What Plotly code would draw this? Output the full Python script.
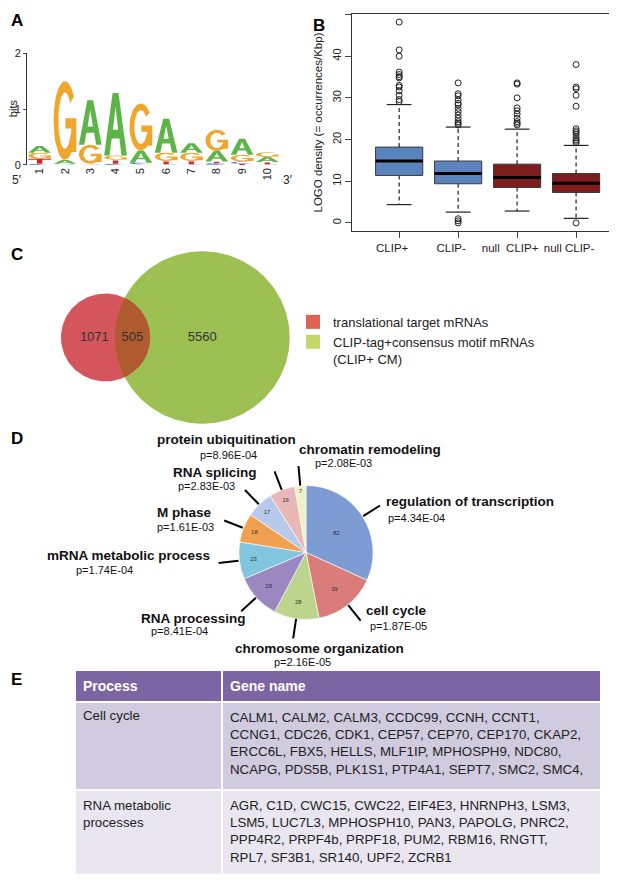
import numpy as np
import plotly.graph_objects as go

# The page body has an 8px margin; the figure is sized so that it fills the rest of the window.
PAGE_W, PAGE_H, BODY = 617, 880, 8
W, H = PAGE_W - BODY, PAGE_H - BODY
FONT = "Liberation Sans, Arial, sans-serif"

# ---------------- Panel A : sequence logo (bits) ----------------
logo_positions = [1, 2, 3, 4, 5, 6, 7, 8, 9, 10]
logo_A = [0.12, 0.07, 0.80, 1.12, 0.22, 0.61, 0.17, 0.19, 0.29, 0.09]
logo_C = [0.02, 0.01, 0.01, 0.02, 0.03, 0.01, 0.01, 0.03, 0.04, 0.01]
logo_G = [0.11, 1.41, 0.34, 0.08, 0.84, 0.15, 0.15, 0.38, 0.12, 0.09]
logo_T = [0.09, 0.01, 0.01, 0.07, 0.01, 0.06, 0.06, 0.03, 0.02, 0.04]
logo_colors = {"A": "#5db548", "C": "#3f63c8", "G": "#f0a52c", "T": "#cc2b2b"}

# ---------------- Panel B : box plot summary ----------------
box_groups = ["CLIP+", "CLIP-", "null  CLIP+", "null CLIP-"]
box_lowfence = [4.4, 2.6, 2.85, 1.1]
box_q1 = [11.4, 9.4, 8.5, 7.3]
box_median = [14.85, 11.85, 10.9, 9.5]
box_q3 = [18.2, 14.85, 14.1, 11.85]
box_upfence = [28.4, 23.0, 22.5, 18.6]
box_outliers = [
    [29.1, 29.6, 30.6, 31.7, 32.6, 33.0, 34.8, 35.1, 35.6, 36.2, 40.0, 41.5, 48.2],
    [0.0, 0.5, 1.0, 23.5, 23.9, 24.3, 25.1, 25.9, 26.7, 27.5, 28.3, 28.7, 29.5, 30.5, 31.0, 33.6],
    [23.5, 23.9, 24.3, 25.1, 26.1, 26.9, 27.6, 30.0, 33.3, 33.6],
    [0.0, 19.2, 19.6, 20.0, 20.5, 21.2, 21.7, 22.1, 22.6, 28.0, 30.6, 32.2, 32.6, 38.0],
]
box_fill = ["#5b84bf", "#5b84bf", "#7d1d1d", "#7d1d1d"]

# ---------------- Panel C : Venn ----------------
venn_only_translational = 1071
venn_both = 505
venn_only_clip = 5560
venn_names = ["translational target mRNAs", "CLIP-tag+consensus motif mRNAs<br>(CLIP+ CM)"]
venn_circle_colors = ["#d4555b", "#9cc152"]
venn_overlap_color = "#b05a2f"
venn_legend_colors = ["#de6352", "#c3d76c"]

# ---------------- Panel D : GO pie ----------------
go_terms = ["regulation of transcription", "cell cycle", "chromosome organization",
            "RNA processing", "mRNA metabolic process", "M phase", "RNA splicing",
            "protein ubiquitination", "chromatin remodeling"]
go_counts = [82, 39, 28, 28, 23, 18, 17, 16, 7]
go_pvals = ["p=4.34E-04", "p=1.87E-05", "p=2.16E-05", "p=8.41E-04", "p=1.74E-04",
            "p=1.61E-03", "p=2.83E-03", "p=8.96E-04", "p=2.08E-03"]
go_colors = ["#7d9cd3", "#da7d7a", "#bcd48b", "#9b88c1", "#82c5de",
             "#f1a04f", "#b9c9ea", "#e9b7b6", "#eef0c6"]

# ---------------- Panel E : table ----------------
table_process = ["Cell cycle", "RNA metabolic<br>processes"]
genes_cell_cycle = ["CALM1", "CALM2", "CALM3", "CCDC99", "CCNH", "CCNT1", "CCNG1", "CDC26",
                    "CDK1", "CEP57", "CEP70", "CEP170", "CKAP2", "ERCC6L", "FBX5", "HELLS",
                    "MLF1IP", "MPHOSPH9", "NDC80", "NCAPG", "PDS5B", "PLK1S1", "PTP4A1",
                    "SEPT7", "SMC2", "SMC4"]
genes_rna_metabolic = ["AGR", "C1D", "CWC15", "CWC22", "EIF4E3", "HNRNPH3", "LSM3", "LSM5",
                       "LUC7L3", "MPHOSPH10", "PAN3", "PAPOLG", "PNRC2", "PPP4R2", "PRPF4b",
                       "PRPF18", "PUM2", "RBM16", "RNGTT", "RPL7", "SF3B1", "SR140", "UPF2",
                       "ZCRB1"]
genes_per_line = [[6, 7, 6, 7], [7, 6, 6, 5]]


def px_x(p):
    """reference page pixel -> paper x"""
    return min(1.0, max(0.0, (p - BODY) / W))


def px_y(p):
    """reference page pixel -> paper y"""
    return min(1.0, max(0.0, 1 - (p - BODY) / H))


fig = go.Figure()

# ====== Panel A drawing ======
def glyph(letter):
    polys, holes = [], []
    if letter == "A":
        polys.append([(0, 0), (0.37, 1), (0.63, 1), (1, 0), (0.76, 0), (0.67, 0.27),
                      (0.33, 0.27), (0.24, 0), (0, 0)])
        holes.append([(0.385, 0.41), (0.5, 0.78), (0.615, 0.41), (0.385, 0.41)])
    elif letter in ("C", "G"):
        end = 322 if letter == "C" else 335
        t = np.radians(np.linspace(38, end, 40))
        ox, oy = 0.5 + 0.5 * np.cos(t), 0.5 + 0.5 * np.sin(t)
        ix, iy = 0.5 + 0.29 * np.cos(t[::-1]), 0.5 + 0.36 * np.sin(t[::-1])
        polys.append(list(zip(np.r_[ox, ix, ox[:1]], np.r_[oy, iy, oy[:1]])))
        if letter == "G":
            polys.append([(0.78, 0.1), (1.0, 0.1), (1.0, 0.53), (0.78, 0.53), (0.78, 0.1)])
            polys.append([(0.52, 0.40), (1.0, 0.40), (1.0, 0.53), (0.52, 0.53), (0.52, 0.40)])
    elif letter == "T":
        polys.append([(0, 0.82), (1, 0.82), (1, 1), (0, 1), (0, 0.82)])
        polys.append([(0.38, 0), (0.62, 0), (0.62, 0.82), (0.38, 0.82), (0.38, 0)])
    return polys, holes


letter_xy = {k: ([], []) for k in "ACGT"}
hole_xy = ([], [])
for i, pos in enumerate(logo_positions):
    stack = sorted([("A", logo_A[i]), ("C", logo_C[i]), ("G", logo_G[i]), ("T", logo_T[i])],
                   key=lambda s: s[1])
    y0 = 0.0
    for letter, h in stack:
        polys, holes = glyph(letter)
        for poly in polys:
            for u, v in poly:
                letter_xy[letter][0].append(pos - 0.45 + 0.9 * u)
                letter_xy[letter][1].append(y0 + h * v)
            letter_xy[letter][0].append(None)
            letter_xy[letter][1].append(None)
        for poly in holes:
            for u, v in poly:
                hole_xy[0].append(pos - 0.45 + 0.9 * u)
                hole_xy[1].append(y0 + h * v)
            hole_xy[0].append(None)
            hole_xy[1].append(None)
        y0 += h

for letter in "ACGT":
    fig.add_trace(go.Scatter(x=letter_xy[letter][0], y=letter_xy[letter][1], mode="lines",
                             fill="toself", fillcolor=logo_colors[letter],
                             line=dict(width=0, color=logo_colors[letter]),
                             hoverinfo="skip", showlegend=False, xaxis="x", yaxis="y"))
fig.add_trace(go.Scatter(x=hole_xy[0], y=hole_xy[1], mode="lines", fill="toself",
                         fillcolor="white", line=dict(width=0, color="white"),
                         hoverinfo="skip", showlegend=False, xaxis="x", yaxis="y"))

# ====== Panel B drawing ======
bx = [i + 1 for i in range(len(box_groups))]
for color in dict.fromkeys(box_fill):
    xs, ys = [], []
    for i, x in enumerate(bx):
        if box_fill[i] != color:
            continue
        xs += [x - 0.4, x + 0.4, x + 0.4, x - 0.4, x - 0.4, None]
        ys += [box_q1[i], box_q1[i], box_q3[i], box_q3[i], box_q1[i], None]
    fig.add_trace(go.Scatter(x=xs, y=ys, mode="lines", fill="toself", fillcolor=color,
                             line=dict(color="#3a3a3a", width=1), hoverinfo="skip",
                             showlegend=False, xaxis="x2", yaxis="y2"))
wx, wy, cx_, cy_, mx, my = [], [], [], [], [], []
for i, x in enumerate(bx):
    wx += [x, x, None, x, x, None]
    wy += [box_q3[i], box_upfence[i], None, box_q1[i], box_lowfence[i], None]
    cx_ += [x - 0.21, x + 0.21, None, x - 0.21, x + 0.21, None]
    cy_ += [box_upfence[i], box_upfence[i], None, box_lowfence[i], box_lowfence[i], None]
    mx += [x - 0.4, x + 0.4, None]
    my += [box_median[i], box_median[i], None]
fig.add_trace(go.Scatter(x=wx, y=wy, mode="lines", line=dict(color="#222", width=1.2, dash="4px,3px"),
                         hoverinfo="skip", showlegend=False, xaxis="x2", yaxis="y2"))
fig.add_trace(go.Scatter(x=cx_, y=cy_, mode="lines", line=dict(color="#222", width=1.2),
                         hoverinfo="skip", showlegend=False, xaxis="x2", yaxis="y2"))
fig.add_trace(go.Scatter(x=mx, y=my, mode="lines", line=dict(color="black", width=3),
                         hoverinfo="skip", showlegend=False, xaxis="x2", yaxis="y2"))
ox, oy = [], []
for i, x in enumerate(bx):
    ox += [x] * len(box_outliers[i])
    oy += box_outliers[i]
fig.add_trace(go.Scatter(x=ox, y=oy, mode="markers",
                         marker=dict(symbol="circle-open", size=6, color="#222", line=dict(width=1)),
                         hoverinfo="skip", showlegend=False, xaxis="x2", yaxis="y2"))

# ====== Panel C drawing (area-proportional Venn) ======
set_a = venn_only_translational + venn_both
set_b = venn_only_clip + venn_both
r1 = np.sqrt(set_a / np.pi)
r2 = np.sqrt(set_b / np.pi)


def lens_area(d):
    a1 = np.arccos(np.clip((d * d + r1 * r1 - r2 * r2) / (2 * d * r1), -1, 1))
    a2 = np.arccos(np.clip((d * d + r2 * r2 - r1 * r1) / (2 * d * r2), -1, 1))
    k = max((-d + r1 + r2) * (d + r1 - r2) * (d - r1 + r2) * (d + r1 + r2), 0)
    return r1 * r1 * a1 + r2 * r2 * a2 - 0.5 * np.sqrt(k)


lo, hi = abs(r2 - r1) + 1e-6, r1 + r2
for _ in range(80):
    mid = (lo + hi) / 2
    if lens_area(mid) > venn_both:
        lo = mid
    else:
        hi = mid
dist = (lo + hi) / 2

tt = np.linspace(0, 2 * np.pi, 200)
for (cxv, rr, col) in [(dist, r2, venn_circle_colors[1]), (0.0, r1, venn_circle_colors[0])]:
    fig.add_trace(go.Scatter(x=cxv + rr * np.cos(tt), y=rr * np.sin(tt), mode="lines",
                             fill="toself", fillcolor=col, line=dict(width=0, color=col),
                             hoverinfo="skip", showlegend=False, xaxis="x3", yaxis="y3"))
xi = (dist * dist + r1 * r1 - r2 * r2) / (2 * dist)
yi = np.sqrt(r1 * r1 - xi * xi)
ta = np.arctan2(yi, xi)
tb = np.arctan2(yi, xi - dist)
t1 = np.linspace(-ta, ta, 60)
t2 = np.linspace(tb, 2 * np.pi - tb, 60)
lx = np.r_[r1 * np.cos(t1), dist + r2 * np.cos(t2)]
ly = np.r_[r1 * np.sin(t1), r2 * np.sin(t2)]
fig.add_trace(go.Scatter(x=lx, y=ly, mode="lines", fill="toself", fillcolor=venn_overlap_color,
                         line=dict(width=0, color=venn_overlap_color), hoverinfo="skip",
                         showlegend=False, xaxis="x3", yaxis="y3"))
fig.add_trace(go.Scatter(
    x=[-0.25 * r1, (dist - r2 + r1) / 2, dist], y=[0, 0, 0], mode="text",
    text=[str(venn_only_translational), str(venn_both), str(venn_only_clip)],
    textfont=dict(size=13, color="#333", family=FONT), hoverinfo="skip",
    showlegend=False, xaxis="x3", yaxis="y3"))
for name, col in zip(venn_names, venn_legend_colors):
    fig.add_trace(go.Scatter(x=[None], y=[None], mode="markers", name=name,
                             marker=dict(symbol="square", size=14, color=col),
                             xaxis="x3", yaxis="y3"))

# ====== Panel D : pie ======
PIE_CX, PIE_CY, PIE_R = 306, 554, 68
fig.add_trace(go.Pie(values=go_counts, labels=go_terms, sort=False, direction="clockwise",
                     rotation=0, marker=dict(colors=go_colors, line=dict(color="white", width=0.6)),
                     textinfo="value", textposition="inside", insidetextorientation="horizontal",
                     textfont=dict(size=6, color="#333", family=FONT), showlegend=False,
                     hoverinfo="label+value",
                     domain=dict(x=[px_x(PIE_CX - PIE_R), px_x(PIE_CX + PIE_R)],
                                 y=[px_y(PIE_CY + PIE_R), px_y(PIE_CY - PIE_R)])))

label_pos = {
    "regulation of transcription": ((384, 502), (386, 519)),
    "cell cycle": ((364, 613), (368, 629)),
    "chromosome organization": ((233, 651), (272, 665)),
    "RNA processing": ((139, 621), (149, 634)),
    "mRNA metabolic process": ((45, 557), (74, 572)),
    "M phase": ((155, 513), (155, 528)),
    "RNA splicing": ((171, 473), (176, 487)),
    "protein ubiquitination": ((155, 439), (198, 455)),
    "chromatin remodeling": ((297, 450), (313, 463)),
}

annotations = []
shapes = []
total = sum(go_counts)
cum = 0
for term, cnt, pv in zip(go_terms, go_counts, go_pvals):
    mid_ang = np.radians((cum + cnt / 2) / total * 360)
    cum += cnt
    dx, dy = np.sin(mid_ang), -np.cos(mid_ang)
    x0, y0 = PIE_CX + PIE_R * dx, PIE_CY + PIE_R * dy
    x1, y1 = PIE_CX + (PIE_R + 20) * dx, PIE_CY + (PIE_R + 20) * dy
    shapes.append(dict(type="line", xref="paper", yref="paper", x0=px_x(x0), y0=px_y(y0),
                       x1=px_x(x1), y1=px_y(y1), line=dict(color="black", width=2)))
    (nx, ny), (pxx, pyy) = label_pos[term]
    annotations.append(dict(text="<b>%s</b>" % term, x=px_x(nx), y=px_y(ny), xref="paper",
                            yref="paper", xanchor="left", yanchor="middle", showarrow=False,
                            font=dict(size=13.5, color="#111", family=FONT)))
    annotations.append(dict(text=pv, x=px_x(pxx), y=px_y(pyy), xref="paper", yref="paper",
                            xanchor="left", yanchor="middle", showarrow=False,
                            font=dict(size=11, color="#111", family=FONT)))

# ====== Panel E : table ======
def wrap(genes, counts, trailing=""):
    lines, k = [], 0
    for n in counts:
        lines.append(", ".join(genes[k:k + n]))
        k += n
    return ",<br>".join(lines) + trailing


table_genes = [wrap(genes_cell_cycle, genes_per_line[0], ","),
               wrap(genes_rna_metabolic, genes_per_line[1])]
fig.add_trace(go.Table(
    domain=dict(x=[px_x(75), px_x(601)], y=[0, px_y(673)]),
    columnwidth=[147, 379],
    header=dict(values=["<b>Process</b>", "<b>Gene name</b>"], fill_color="#7b65a3",
                font=dict(color="white", size=14, family=FONT), align="left", height=29,
                line=dict(color="white", width=2)),
    cells=dict(values=[table_process, table_genes],
               fill_color=[["#d0cbdf", "#e9e6f0"], ["#d0cbdf", "#e9e6f0"]],
               font=dict(color="#222", size=13.3, family=FONT), align="left", height=88,
               line=dict(color="white", width=2)),
))

# ====== panel letters and misc texts ======
panel_letters = {"A": (9, 15, "left", "middle"), "B": (319, 8.5, "center", "top"),
                 "C": (9, 252, "left", "middle"), "D": (9, 438, "left", "middle"),
                 "E": (9, 683, "left", "middle")}
for letter, (lx_, ly_, anc, vanc) in panel_letters.items():
    annotations.append(dict(text="<b>%s</b>" % letter, x=px_x(lx_), y=px_y(ly_), xref="paper",
                            yref="paper", xanchor=anc, yanchor=vanc, showarrow=False,
                            font=dict(size=17, color="black", family=FONT)))
annotations += [
    dict(text="5′", x=px_x(17), y=px_y(176), xref="paper", yref="paper", showarrow=False,
         xanchor="center", yanchor="middle", font=dict(size=12, color="#222", family=FONT)),
    dict(text="3′", x=px_x(288), y=px_y(176), xref="paper", yref="paper", showarrow=False,
         xanchor="center", yanchor="middle", font=dict(size=12, color="#222", family=FONT)),
    dict(text="bits", x=px_x(12.5), y=px_y(104), xref="paper", yref="paper", showarrow=False,
         xanchor="center", yanchor="middle", textangle=-90,
         font=dict(size=11, color="#222", family=FONT)),
]

# Venn axes scale
S = 1.99  # px per unit
VX0, VX1, VY0, VY1 = 8, 300, 240, 432
RED_CX, RED_CY = 105.5, 336

fig.update_layout(
    width=W, height=H, margin=dict(l=0, r=0, t=0, b=0),
    paper_bgcolor="white", plot_bgcolor="white",
    font=dict(family=FONT, color="#222"),
    xaxis=dict(domain=[px_x(27), px_x(280)], range=[0.5, 10.5], showline=False, showgrid=False,
               zeroline=False, tickvals=logo_positions, ticktext=[str(p) for p in logo_positions],
               tickangle=-90, ticks="", tickfont=dict(size=11, color="#222"), anchor="y"),
    yaxis=dict(domain=[px_y(161), px_y(48)], range=[0, 2], showline=True, linecolor="#333",
               linewidth=1, ticks="outside", ticklen=3, tickvals=[0, 1, 2], showgrid=False,
               zeroline=False, tickfont=dict(size=11, color="#222"), anchor="x"),
    xaxis2=dict(domain=[px_x(352), px_x(615)], range=[0.2, 4.66], showline=True, mirror=True,
                linecolor="#333", linewidth=1, ticks="outside", ticklen=6, tickvals=bx,
                ticktext=box_groups, ticklabelshift=-7, showgrid=False, zeroline=False,
                tickfont=dict(size=11.5, color="#222"), anchor="y2"),
    yaxis2=dict(domain=[px_y(228), px_y(8)], range=[-1.93, 50.13], showline=True, mirror=True,
                linecolor="#333", linewidth=1, ticks="outside", ticklen=6,
                tickvals=[0, 10, 20, 30, 40, 50], tickangle=-90, showgrid=False, zeroline=False,
                tickfont=dict(size=11, color="#222"), anchor="x2",
                title=dict(text="LOGO density (= occurrences/Kbp)", standoff=5,
                           font=dict(size=11.5, color="#222"))),
    xaxis3=dict(domain=[px_x(VX0), px_x(VX1)], range=[(VX0 - RED_CX) / S, (VX1 - RED_CX) / S],
                visible=False, anchor="y3"),
    yaxis3=dict(domain=[px_y(VY1), px_y(VY0)], range=[-(VY1 - RED_CY) / S, (RED_CY - VY0) / S],
                visible=False, anchor="x3"),
    legend=dict(x=px_x(293), y=px_y(305), xanchor="left", yanchor="top", valign="top",
                font=dict(size=13, color="#222", family=FONT), bgcolor="rgba(0,0,0,0)",
                tracegroupgap=0, itemclick=False),
    annotations=annotations,
    shapes=shapes,
)

fig.write_html("out.html")
